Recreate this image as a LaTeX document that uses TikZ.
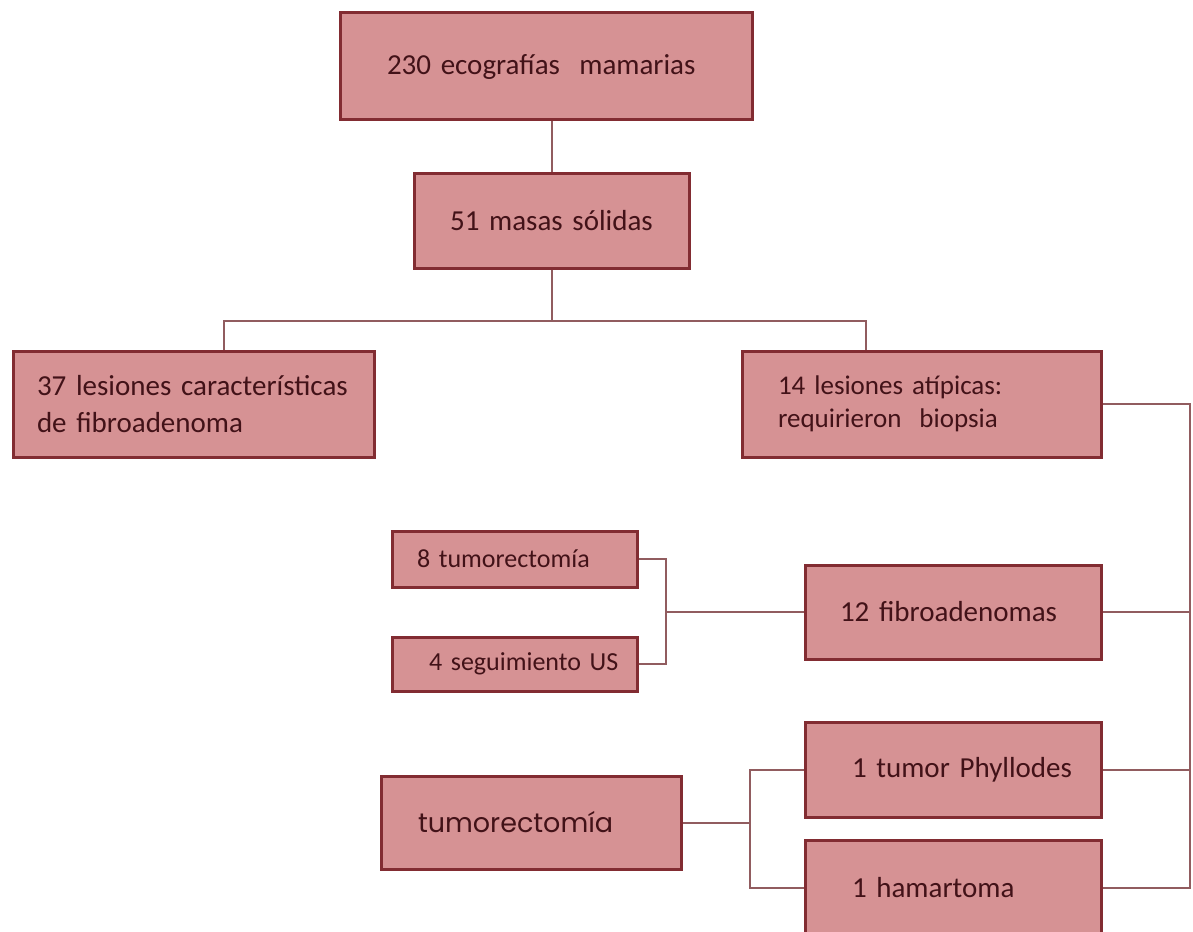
\documentclass[tikz,border=0pt]{standalone}
\usepackage{fontspec}
\setmainfont{Carlito}
\newfontfamily\roundfont{Poppins}
\usetikzlibrary{positioning}
\definecolor{boxfill}{RGB}{214,146,148}
\definecolor{boxline}{RGB}{130,44,50}
\definecolor{linkline}{RGB}{145,92,95}
\definecolor{boxtext}{RGB}{66,18,24}

\begin{document}
\begin{tikzpicture}[x=1pt, y=-1pt,
    box/.style={draw=boxline, line width=3pt, fill=boxfill, text=boxtext, font=\fontsize{29}{37}\selectfont, align=left, inner ysep=0pt},
    smallbox/.style={box, font=\fontsize{26}{30}\selectfont},
    link/.style={draw=linkline, line width=2pt}]
\useasboundingbox (0,0) rectangle (1193,931);

% upper part
\node[box, text width=318, inner xsep=47, minimum height=107] (ecos) at (546,66.5) {\mbox{230 ecografías\ \ mamarias}};
\node[box, text width=255, inner xsep=10, minimum height=95, align=center] (masas) at (551.5,220.5) {51 masas sólidas};
\node[box, text width=313, inner xsep=24, minimum height=106] (tipicas) at (193.5,404) {\mbox{37 lesiones características}\\de fibroadenoma};
\node[box, text width=287, inner xsep=36, minimum height=106, font=\fontsize{27}{33}\selectfont] (atipicas) at (921.5,404) {\mbox{14 lesiones atípicas:}\\\mbox{requirieron\ \ biopsia}};

% lower part
\node[smallbox, text width=195, inner xsep=25, minimum height=56] (tumor8) at (514.5,559) {\mbox{8 tumorectomía}};
\node[smallbox, text width=171, inner xsep=37, minimum height=54] (seguim) at (514.5,664) {\mbox{4 seguimiento US}};
\node[box, text width=226, inner xsep=35, minimum height=94] (fibro) at (953,612) {\mbox{12 fibroadenomas}};
\node[box, text width=202, inner xsep=47, minimum height=95] (phyll) at (953,769.5) {\mbox{1 tumor Phyllodes}};
\node[box, text width=202, inner xsep=47, minimum height=95] (hamar) at (953,887.5) {\mbox{1 hamartoma}};
\node[box, text width=226, inner xsep=37, minimum height=93, font=\roundfont\fontsize{27}{32}\selectfont] (tumorx) at (531,822.5) {\mbox{tumorectomía}};

\coordinate (split) at (551.5,321);
\coordinate (bus) at (1190,0);
\coordinate (joinA) at (666,0);
\coordinate (joinB) at (750,0);

\draw[link] (ecos.south -| masas.north) -- (masas.north);
\draw[link] (masas.south) -- (split);
\draw[link] ([xshift=30.5pt]tipicas.north) |- (split) -| ([xshift=-55.5pt]atipicas.north);

\draw[link] (atipicas.east) -- (atipicas.east -| bus) -- (hamar.east -| bus) -- (hamar.east);
\draw[link] (fibro.east) -- (fibro.east -| bus);
\draw[link] (phyll.east) -- (phyll.east -| bus);

\draw[link] (tumor8.east) -- (tumor8.east -| joinA) -- (seguim.east -| joinA) -- (seguim.east);
\draw[link] (fibro.west) -- (fibro.west -| joinA);

\draw[link] (phyll.west) -- (phyll.west -| joinB) -- (hamar.west -| joinB) -- (hamar.west);
\draw[link] (tumorx.east) -- (tumorx.east -| joinB);
\end{tikzpicture}
\end{document}
